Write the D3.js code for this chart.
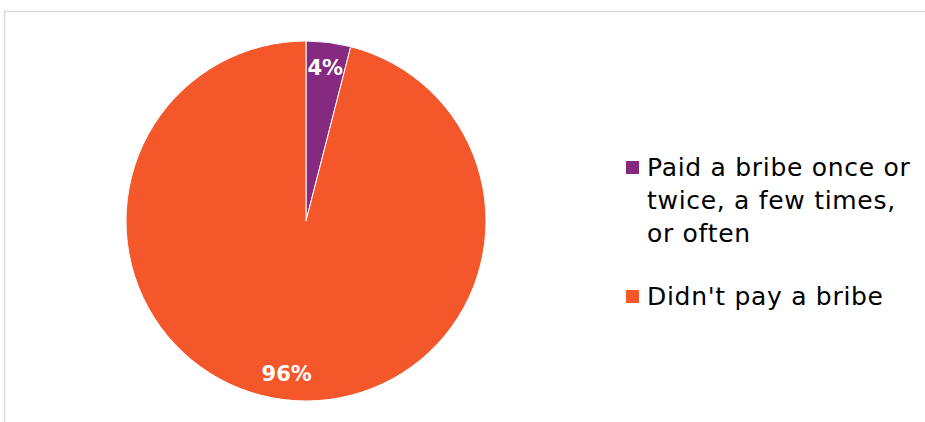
<!DOCTYPE html>
<html>
<head>
<meta charset="utf-8">
<script src="https://cdn.jsdelivr.net/npm/d3@7"></script>
<style>
  html, body { margin: 0; padding: 0; background: #fff; }
  svg { display: block; }
</style>
</head>
<body>
<svg id="chart" width="925" height="422"></svg>
<script>
// Bribery responses, share of respondents (%)
const categories = ["Paid a bribe once or twice, a few times, or often", "Didn't pay a bribe"];
const legendLines = [["Paid a bribe once or", "twice, a few times,", "or often"], ["Didn't pay a bribe"]];
const values = [4, 96];
const colors = ["#852a80", "#f4572a"];

const svg = d3.select("#chart");
const W = 925, H = 422;

// chart frame (top and left edges visible)
svg.append("path")
  .attr("d", `M4.5,${H} V11.5 H${W}`)
  .attr("fill", "none")
  .attr("stroke", "#d9d9d9")
  .attr("stroke-width", 1.5);

const cx = 306, cy = 221, r = 180;

const pie = d3.pie().sort(null).value(d => d);
const arcs = pie(values);
const arc = d3.arc().innerRadius(0).outerRadius(r);

const g = svg.append("g").attr("transform", `translate(${cx},${cy})`);
g.selectAll("path.slice")
  .data(arcs)
  .join("path")
  .attr("class", "slice")
  .attr("d", arc)
  .attr("fill", (d, i) => colors[i])
  .attr("stroke", "#fff")
  .attr("stroke-width", 1);

// value labels placed near the rim
const labelArc = d3.arc().innerRadius(r * 0.855).outerRadius(r * 0.855);
g.selectAll("text.val")
  .data(arcs)
  .join("text")
  .attr("class", "val")
  .attr("transform", d => {
    const [x, y] = labelArc.centroid(d);
    return `translate(${x},${y})`;
  })
  .attr("text-anchor", "middle")
  .attr("dominant-baseline", "central")
  .attr("font-family", "'DejaVu Sans', sans-serif")
  .attr("font-weight", "bold")
  .attr("font-size", 21)
  .attr("fill", "#fff")
  .text(d => d.data + "%");

// legend
const legend = svg.append("g")
  .attr("font-family", "'DejaVu Sans', sans-serif")
  .attr("font-size", 25)
  .attr("letter-spacing", 0.7)
  .attr("fill", "#000");
const entryTop = [176, 305];
legendLines.forEach((lines, i) => {
  legend.append("rect")
    .attr("x", 626).attr("y", entryTop[i] - 15)
    .attr("width", 13).attr("height", 13)
    .attr("fill", colors[i]);
  lines.forEach((ln, j) => {
    legend.append("text")
      .attr("x", 647)
      .attr("y", entryTop[i] + j * 33)
      .text(ln);
  });
});
</script>
</body>
</html>
